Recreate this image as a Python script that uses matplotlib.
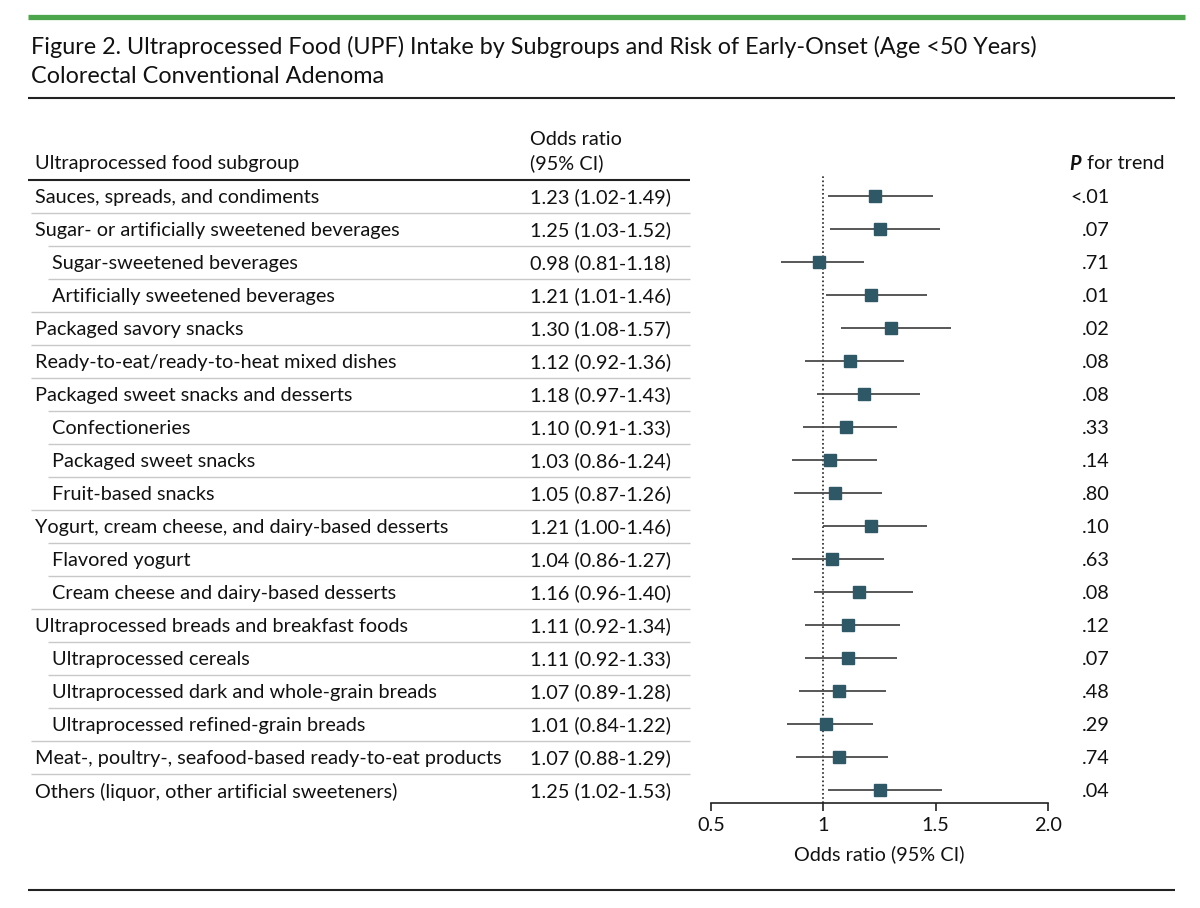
import matplotlib
matplotlib.use("Agg")
import matplotlib.pyplot as plt
from matplotlib.lines import Line2D

plt.rcParams["font.family"] = ["Lato", "DejaVu Sans"]

# ---- data ----
subgroups = [
    "Sauces, spreads, and condiments",
    "Sugar- or artificially sweetened beverages",
    "Sugar-sweetened beverages",
    "Artificially sweetened beverages",
    "Packaged savory snacks",
    "Ready-to-eat/ready-to-heat mixed dishes",
    "Packaged sweet snacks and desserts",
    "Confectioneries",
    "Packaged sweet snacks",
    "Fruit-based snacks",
    "Yogurt, cream cheese, and dairy-based desserts",
    "Flavored yogurt",
    "Cream cheese and dairy-based desserts",
    "Ultraprocessed breads and breakfast foods",
    "Ultraprocessed cereals",
    "Ultraprocessed dark and whole-grain breads",
    "Ultraprocessed refined-grain breads",
    "Meat-, poultry-, seafood-based ready-to-eat products",
    "Others (liquor, other artificial sweeteners)",
]
is_sub = [0, 0, 1, 1, 0, 0, 0, 1, 1, 1, 0, 1, 1, 0, 1, 1, 1, 0, 0]
odds = [1.23, 1.25, 0.98, 1.21, 1.30, 1.12, 1.18, 1.10, 1.03, 1.05,
        1.21, 1.04, 1.16, 1.11, 1.11, 1.07, 1.01, 1.07, 1.25]
ci_low = [1.02, 1.03, 0.81, 1.01, 1.08, 0.92, 0.97, 0.91, 0.86, 0.87,
          1.00, 0.86, 0.96, 0.92, 0.92, 0.89, 0.84, 0.88, 1.02]
ci_high = [1.49, 1.52, 1.18, 1.46, 1.57, 1.36, 1.43, 1.33, 1.24, 1.26,
           1.46, 1.27, 1.40, 1.34, 1.33, 1.28, 1.22, 1.29, 1.53]
p_trend = ["<.01", ".07", ".71", ".01", ".02", ".08", ".08", ".33", ".14", ".80",
           ".10", ".63", ".08", ".12", ".07", ".48", ".29", ".74", ".04"]
x_ticks = [0.5, 1, 1.5, 2.0]
x_ticklabels = ["0.5", "1", "1.5", "2.0"]

W, H = 1200, 908
ROW0, ROWH = 196, 33
FS = 14.3
DY = 1.5  # small shift so text centres sit on the row centre
MARK = "#2e5866"
TXT = "#111111"

fig = plt.figure(figsize=(W / 100, H / 100), dpi=100)

# overlay in pixel coordinates for the table part
ov = fig.add_axes([0, 0, 1, 1])
ov.set_xlim(0, W)
ov.set_ylim(H, 0)
ov.axis("off")

def hline(y, x0, x1, color, lw):
    ov.add_line(Line2D([x0, x1], [y, y], color=color, lw=lw, solid_capstyle="butt"))

def txt(x, y, s, **kw):
    kw.setdefault("fontsize", FS)
    kw.setdefault("color", TXT)
    ov.text(x, y + DY, s, va="center", **kw)

hline(17, 28, 1185, "#4ca64c", 3.8)
txt(31, 45, "Figure 2. Ultraprocessed Food (UPF) Intake by Subgroups and Risk of Early-Onset (Age <50 Years)",
    fontsize=16.8)
txt(31, 75, "Colorectal Conventional Adenoma", fontsize=16.8)
hline(98, 28, 1175, "#222222", 1.5)

txt(35, 162, "Ultraprocessed food subgroup")
txt(530, 138, "Odds ratio")
txt(530, 162, "(95% CI)")
txt(1069, 162, "P", fontstyle="italic", fontweight="bold")
txt(1087, 162, "for trend")
hline(180, 28, 690, "#222222", 1.5)

for i, name in enumerate(subgroups):
    y = ROW0 + ROWH * i
    x = 52 if is_sub[i] else 35
    txt(x, y, name)
    txt(530, y, f"{odds[i]:.2f} ({ci_low[i]:.2f}-{ci_high[i]:.2f})")
    txt(1110, y, p_trend[i], ha="right")
    if i > 0:
        hline(y - ROWH / 2, x - 4, 690, "#c8c8c8", 1.0)

hline(890, 28, 1175, "#222222", 1.5)

# forest plot axes
ax_left, ax_right = 711, 1048
ax_top, ax_bot = 175, 803
ax = fig.add_axes([ax_left / W, 1 - ax_bot / H, (ax_right - ax_left) / W, (ax_bot - ax_top) / H])
ax.patch.set_alpha(0)
ax.set_xlim(0.5, 2.0)
ax.set_ylim((ax_bot - ROW0) / ROWH, (ax_top - ROW0) / ROWH)
rows = list(range(len(subgroups)))
ax.axvline(1, color="#222222", lw=1.2, ls=(0, (1, 1.5)), zorder=1)
ax.hlines(rows, ci_low, ci_high, color="#4a4a4a", lw=1.3, zorder=2)
ax.plot(odds, rows, ls="none", marker="s", ms=8.5, color=MARK, zorder=3)

for s in ["top", "right", "left"]:
    ax.spines[s].set_visible(False)
ax.spines["bottom"].set_color("#222222")
ax.spines["bottom"].set_linewidth(1.2)
ax.set_yticks([])
ax.set_xticks(x_ticks)
ax.set_xticklabels(x_ticklabels)
ax.tick_params(axis="x", direction="out", length=6, width=1.2, color="#222222",
               labelsize=FS, labelcolor=TXT, pad=4)
ax.set_xlabel("Odds ratio (95% CI)", fontsize=FS, color=TXT, labelpad=8)

fig.savefig("out.png", dpi=100)
